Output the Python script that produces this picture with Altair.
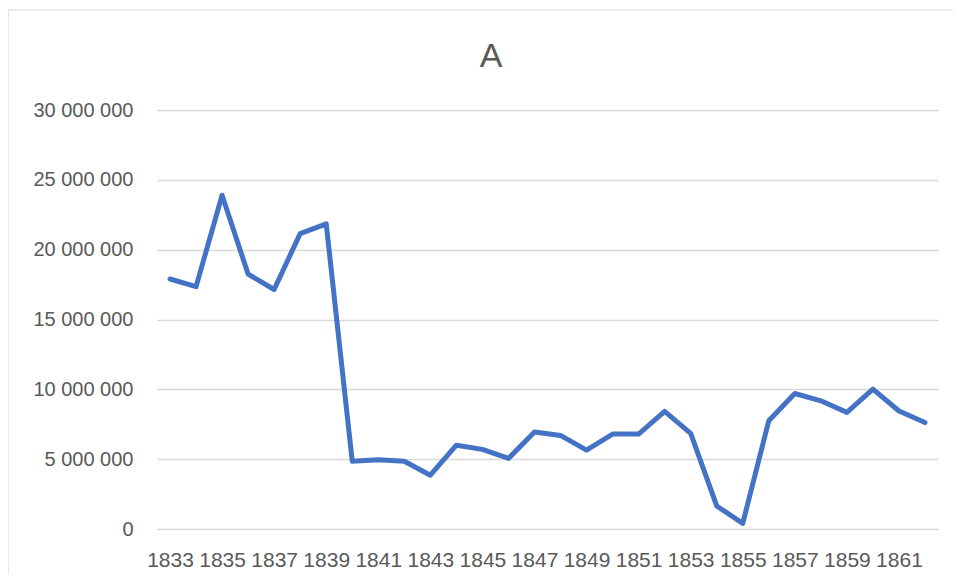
import altair as alt
import pandas as pd

years = list(range(1833, 1863))
values = [
    17900000, 17350000, 23900000, 18250000, 17150000, 21150000, 21850000,
    4850000, 4950000, 4850000, 3850000, 6000000, 5700000, 5050000,
    6950000, 6700000, 5650000, 6800000, 6800000, 8420000, 6850000,
    1650000, 400000, 7750000, 9700000, 9180000, 8350000, 10020000,
    8450000, 7620000,
]
y_ticks = [0, 5000000, 10000000, 15000000, 20000000, 25000000, 30000000]
x_labels = [str(y) for y in range(1833, 1863, 2)]
title_text = "A"

df = pd.DataFrame({"year": [str(y) for y in years], "value": values})
one = pd.DataFrame({"a": [0]})

FONT = "Liberation Sans"
GRAY = "#595959"

line = alt.Chart(df).mark_line(
    color="#4472C4", strokeWidth=5, strokeJoin="round", strokeCap="round"
).encode(
    x=alt.X(
        "year:O",
        sort=None,
        scale=alt.Scale(padding=0.5),
        axis=alt.Axis(
            values=x_labels, labelAngle=0, title=None, domain=False, ticks=False,
            tickSize=0, labelPadding=20, labelFontSize=21, labelFont=FONT,
            labelColor=GRAY, labelOverlap=False, grid=False,
        ),
    ),
    y=alt.Y(
        "value:Q",
        scale=alt.Scale(domain=[0, 30000000], nice=False),
        axis=alt.Axis(
            values=y_ticks, title=None, domain=False, ticks=False, tickSize=0,
            labelPadding=24, labelFontSize=20, labelFont=FONT, labelColor=GRAY,
            labelExpr="replace(format(datum.value, ','), regexp(',', 'g'), ' ')",
            grid=True, gridColor="#d9d9d9", gridWidth=1.3,
        ),
    ),
)

border_left = alt.Chart(one).mark_rule(color="#d9d9d9", strokeWidth=1.2).encode(
    x=alt.value(-149), y=alt.value(-100), y2=alt.value(470)
)
border_top = alt.Chart(one).mark_rule(color="#d9d9d9", strokeWidth=1.2).encode(
    x=alt.value(-149), x2=alt.value(820), y=alt.value(-100)
)
title_mark = alt.Chart(one).mark_text(
    text=title_text, font=FONT, fontSize=34, color=GRAY,
    align="center", baseline="alphabetic",
).encode(x=alt.value(334), y=alt.value(-43))

chart = alt.layer(border_left, border_top, title_mark, line).properties(
    width=781,
    height=419,
    background="white",
    autosize=alt.AutoSizeParams(type="none"),
    padding={"left": 149, "top": 102, "right": 15, "bottom": 45},
).configure_view(strokeWidth=0)

chart.save("out.html", embed_options={"renderer": "svg", "actions": False})
